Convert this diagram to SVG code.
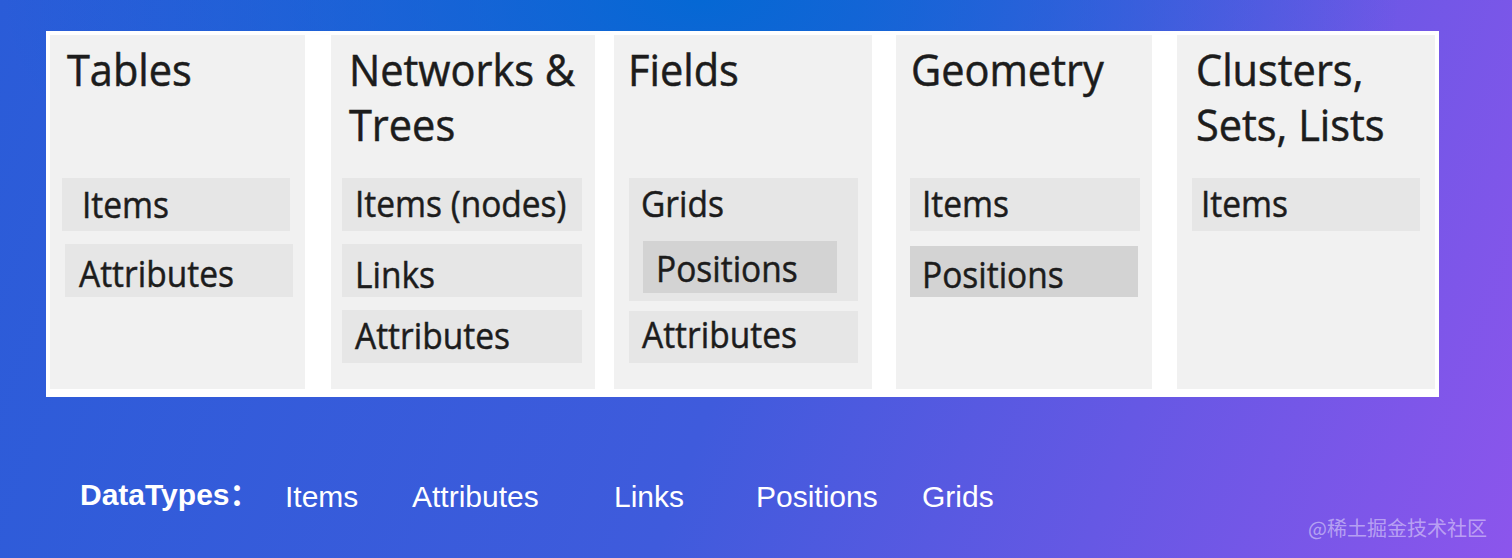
<svg xmlns="http://www.w3.org/2000/svg" width="1512" height="558" viewBox="0 0 1512 558">
<defs>
<linearGradient id="bg" x1="0" y1="0" x2="1512" y2="558" gradientUnits="userSpaceOnUse">
<stop offset="0" stop-color="#2a5cd8"/>
<stop offset="0.5" stop-color="#3f5bdc"/>
<stop offset="1" stop-color="#8c55ec"/>
</linearGradient>
<radialGradient id="glow" cx="700" cy="0" r="700" gradientUnits="userSpaceOnUse" gradientTransform="translate(700 0) scale(1 0.45) translate(-700 0)">
<stop offset="0" stop-color="#0568d4" stop-opacity="1"/>
<stop offset="1" stop-color="#0568d4" stop-opacity="0"/>
</radialGradient>
<style>
.col{fill:#f1f1f1}
.sub{fill:#e6e6e6}
.dark{fill:#d3d3d3}
.ttl{font-family:"Open Sans","Noto Sans",sans-serif;font-size:41.5px;fill:#1c1c1c;stroke:#1c1c1c;stroke-width:0.5px}
.lbl{font-family:"Open Sans","Noto Sans",sans-serif;font-size:33.5px;fill:#1c1c1c;stroke:#1c1c1c;stroke-width:0.45px}
.dt{font-family:"Liberation Sans",Arial,"Noto Sans CJK SC",sans-serif;font-size:30px;fill:#ffffff}
.dtb{font-weight:bold}
.wm{font-family:"Noto Sans CJK SC",sans-serif;font-size:20px;fill:#ffffff;fill-opacity:0.45}
</style>
</defs>
<rect x="0" y="0" width="1512" height="558" fill="url(#bg)"/>
<rect x="0" y="0" width="1512" height="558" fill="url(#glow)"/>
<rect x="46" y="31" width="1393" height="366" fill="#ffffff"/>

<g id="tables">
<rect class="col" x="50" y="35" width="255" height="354"/>
<text class="ttl" transform="translate(67 86) scale(1 1.07)">Tables</text>
<rect class="sub" x="62" y="178" width="228" height="53"/>
<text class="lbl" transform="translate(82 218) scale(1 1.1)">Items</text>
<rect class="sub" x="65" y="244" width="228" height="53"/>
<text class="lbl" transform="translate(79 287) scale(1 1.1)">Attributes</text>
</g>

<g id="networks">
<rect class="col" x="331" y="35" width="264" height="354"/>
<text class="ttl" transform="translate(349 86) scale(1 1.07)">Networks &amp;</text>
<text class="ttl" transform="translate(349 141) scale(1 1.07)">Trees</text>
<rect class="sub" x="342" y="178" width="240" height="53"/>
<text class="lbl" transform="translate(355 217) scale(1 1.1)">Items (nodes)</text>
<rect class="sub" x="342" y="244" width="240" height="53"/>
<text class="lbl" transform="translate(355 288) scale(1 1.1)">Links</text>
<rect class="sub" x="342" y="310" width="240" height="53"/>
<text class="lbl" transform="translate(355 349) scale(1 1.1)">Attributes</text>
</g>

<g id="fields">
<rect class="col" x="614" y="35" width="258" height="354"/>
<text class="ttl" transform="translate(628 86) scale(1 1.07)">Fields</text>
<rect class="sub" x="629" y="178" width="229" height="123"/>
<text class="lbl" transform="translate(641 217) scale(1 1.1)">Grids</text>
<rect class="dark" x="643" y="241" width="194" height="52"/>
<text class="lbl" transform="translate(656 282) scale(1 1.1)">Positions</text>
<rect class="sub" x="629" y="311" width="229" height="52"/>
<text class="lbl" transform="translate(642 348) scale(1 1.1)">Attributes</text>
</g>

<g id="geometry">
<rect class="col" x="896" y="35" width="256" height="354"/>
<text class="ttl" transform="translate(911 86) scale(1 1.07)">Geometry</text>
<rect class="sub" x="910" y="178" width="230" height="53"/>
<text class="lbl" transform="translate(922 217) scale(1 1.1)">Items</text>
<rect class="dark" x="910" y="246" width="228" height="51"/>
<text class="lbl" transform="translate(922 288) scale(1 1.1)">Positions</text>
</g>

<g id="clusters">
<rect class="col" x="1177" y="35" width="258" height="354"/>
<text class="ttl" transform="translate(1196 86) scale(1 1.07)">Clusters,</text>
<text class="ttl" transform="translate(1196 141) scale(1 1.07)">Sets, Lists</text>
<rect class="sub" x="1192" y="178" width="228" height="53"/>
<text class="lbl" transform="translate(1201 217) scale(1 1.1)">Items</text>
</g>

<g id="connectors"></g>

<g id="datatypes">
<text class="dt dtb" x="80" y="505">DataTypes：</text>
<text class="dt" x="285" y="507">Items</text>
<text class="dt" x="412" y="507">Attributes</text>
<text class="dt" x="614" y="507">Links</text>
<text class="dt" x="756" y="507">Positions</text>
<text class="dt" x="922" y="507">Grids</text>
</g>

<text class="wm" x="1308" y="536">@稀土掘金技术社区</text>
</svg>
